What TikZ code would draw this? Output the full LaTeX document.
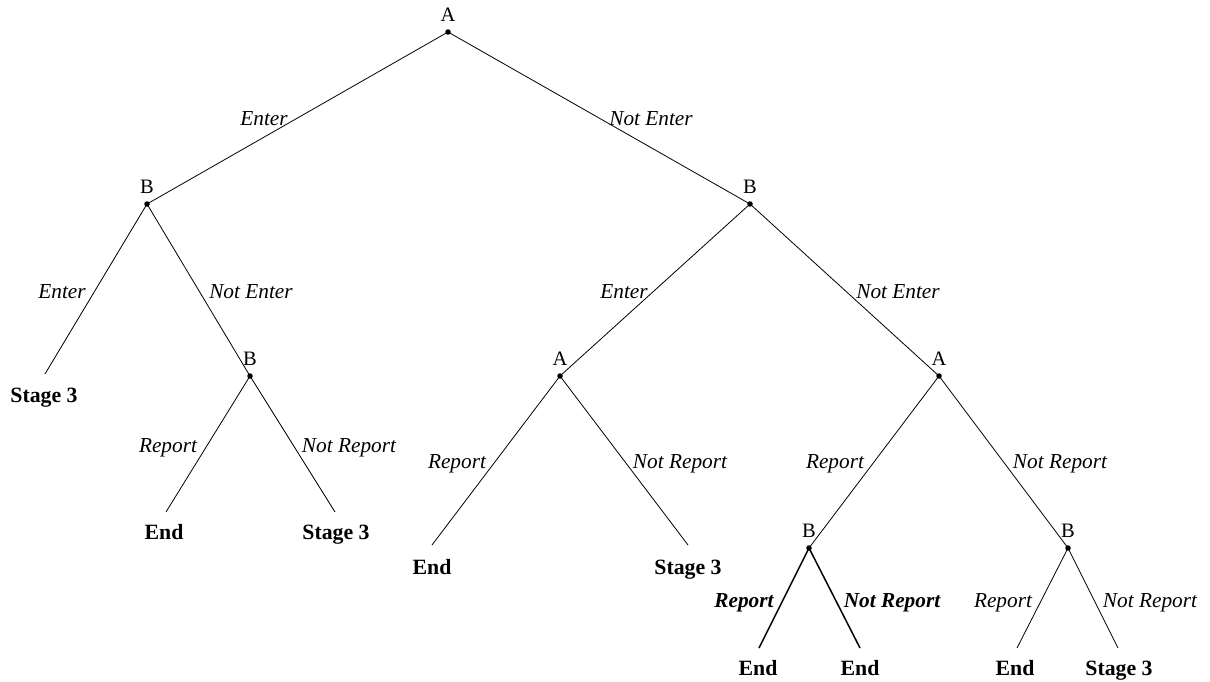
\documentclass[tikz,border=0pt]{standalone}
\usepackage{fontspec}
\setmainfont{Liberation Serif}
\begin{document}
\begin{tikzpicture}[x=1pt,y=-1pt,
  dec/.style={circle,fill=black,inner sep=0pt,minimum size=5.5pt},
  plab/.style={anchor=base,inner sep=0pt,font=\fontsize{20.5}{24}\selectfont},
  act/.style={anchor=base,inner sep=0pt,font=\fontsize{21.3}{25}\selectfont\itshape},
  bact/.style={anchor=base,inner sep=0pt,font=\fontsize{21.3}{25}\selectfont\bfseries\itshape},
  leaf/.style={anchor=base,inner sep=0pt,font=\fontsize{21.8}{26}\selectfont\bfseries},
  edge/.style={line width=0.8pt},
  bedge/.style={line width=1.5pt}]
\useasboundingbox (0,0) rectangle (1210,681);
% decision nodes
\node[dec] (r) at (448,32) {};
\node[dec] (bl) at (147,204) {};
\node[dec] (br) at (750,204) {};
\node[dec] (blb) at (250,376) {};
\node[dec] (bra) at (560,376) {};
\node[dec] (brna) at (939,376) {};
\node[dec] (b1) at (809,548) {};
\node[dec] (b2) at (1068,548) {};
% player labels
\node[plab] (lr) at (448,21) {A};
\node[plab] (lbl) at (147,193) {B};
\node[plab] (lbr) at (750,193) {B};
\node[plab] (lblb) at (250,365) {B};
\node[plab] (lbra) at (560,365) {A};
\node[plab] (lbrna) at (939,365) {A};
\node[plab] (lb1) at (809,537) {B};
\node[plab] (lb2) at (1068,537) {B};
% leaf end points
\coordinate (e1) at (45,374);
\coordinate (e2) at (166,512);
\coordinate (e3) at (335,512);
\coordinate (e4) at (432,545);
\coordinate (e5) at (688,545);
\coordinate (e6) at (759,648);
\coordinate (e7) at (860,648);
\coordinate (e8) at (1017,648);
\coordinate (e9) at (1118,648);
% leaf texts
\node[leaf] (t1) at (44,402) {Stage 3};
\node[leaf] (t2) at (164,539) {End};
\node[leaf] (t3) at (336,539) {Stage 3};
\node[leaf] (t4) at (432,574) {End};
\node[leaf] (t5) at (688,574) {Stage 3};
\node[leaf] (t6) at (758,675) {End};
\node[leaf] (t7) at (860,675) {End};
\node[leaf] (t8) at (1015,675) {End};
\node[leaf] (t9) at (1119,675) {Stage 3};
% edges
\draw[edge] (r.center) -- (bl.center);
\draw[edge] (r.center) -- (br.center);
\draw[edge] (bl.center) -- (e1);
\draw[edge] (bl.center) -- (blb.center);
\draw[edge] (br.center) -- (bra.center);
\draw[edge] (br.center) -- (brna.center);
\draw[edge] (blb.center) -- (e2);
\draw[edge] (blb.center) -- (e3);
\draw[edge] (bra.center) -- (e4);
\draw[edge] (bra.center) -- (e5);
\draw[edge] (brna.center) -- (b1.center);
\draw[edge] (brna.center) -- (b2.center);
\draw[bedge] (b1.center) -- (e6);
\draw[bedge] (b1.center) -- (e7);
\draw[edge] (b2.center) -- (e8);
\draw[edge] (b2.center) -- (e9);
% action labels
\node[act] (a1) at (264,125) {Enter};
\node[act] (a2) at (651,125) {Not Enter};
\node[act] (a3) at (62,298) {Enter};
\node[act] (a4) at (251,298) {Not Enter};
\node[act] (a5) at (624,298) {Enter};
\node[act] (a6) at (898,298) {Not Enter};
\node[act] (a7) at (168,452) {Report};
\node[act] (a8) at (349,452) {Not Report};
\node[act] (a9) at (457,468) {Report};
\node[act] (a10) at (680,468) {Not Report};
\node[act] (a11) at (835,468) {Report};
\node[act] (a12) at (1060,468) {Not Report};
\node[bact] (a13) at (744,607) {Report};
\node[bact] (a14) at (892,607) {Not Report};
\node[act] (a15) at (1003,607) {Report};
\node[act] (a16) at (1150,607) {Not Report};
\end{tikzpicture}
\end{document}
